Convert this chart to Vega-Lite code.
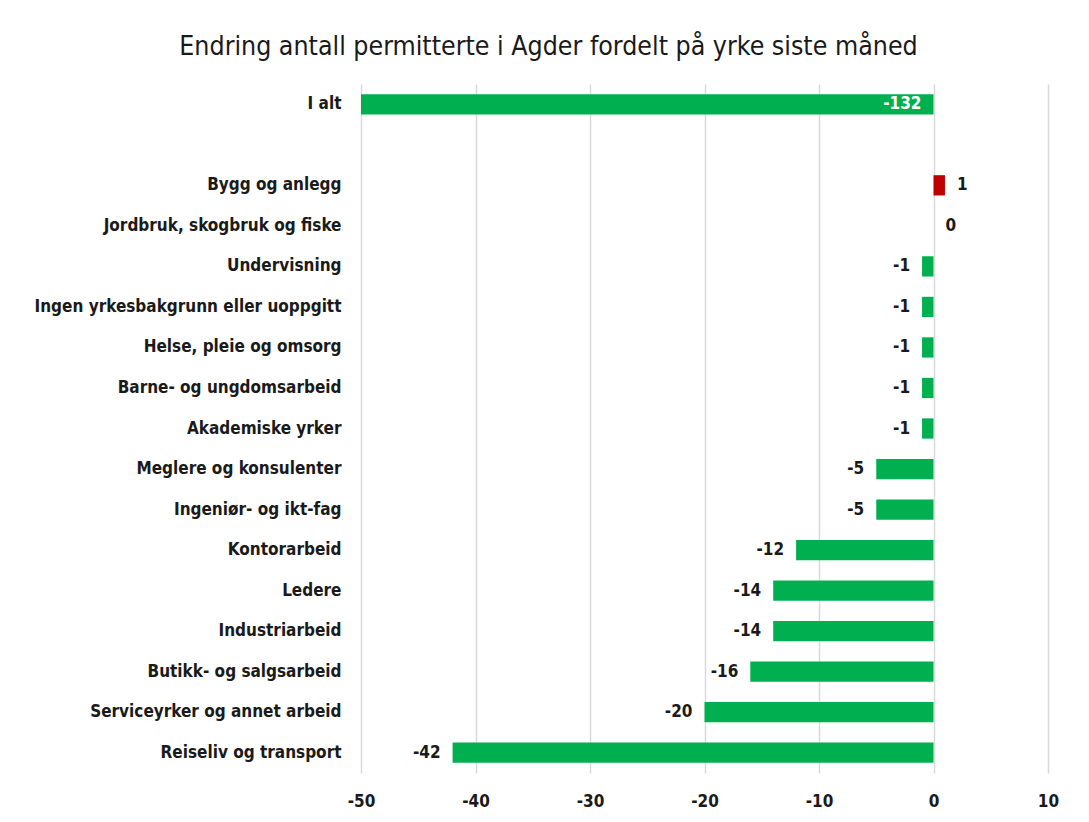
{
  "$schema": "https://vega.github.io/schema/vega-lite/v6.json",
  "autosize": {"type": "none"},
  "padding": {"left": 361, "top": 84, "right": 41, "bottom": 49},
  "width": 687,
  "height": 689,
  "background": "white",
  "title": {
    "text": "Endring antall permitterte i Agder fordelt på yrke siste måned",
    "font": "DejaVu Sans Condensed",
    "fontSize": 26.5,
    "fontWeight": "normal",
    "color": "#1a1a1a",
    "anchor": "middle",
    "dx": -156,
    "offset": 24
  },
  "data": {
    "values": [
      {"category": "I alt", "value": -132},
      {"category": "Bygg og anlegg", "value": 1},
      {"category": "Jordbruk, skogbruk og fiske", "value": 0},
      {"category": "Undervisning", "value": -1},
      {"category": "Ingen yrkesbakgrunn eller uoppgitt", "value": -1},
      {"category": "Helse, pleie og omsorg", "value": -1},
      {"category": "Barne- og ungdomsarbeid", "value": -1},
      {"category": "Akademiske yrker", "value": -1},
      {"category": "Meglere og konsulenter", "value": -5},
      {"category": "Ingeniør- og ikt-fag", "value": -5},
      {"category": "Kontorarbeid", "value": -12},
      {"category": "Ledere", "value": -14},
      {"category": "Industriarbeid", "value": -14},
      {"category": "Butikk- og salgsarbeid", "value": -16},
      {"category": "Serviceyrker og annet arbeid", "value": -20},
      {"category": "Reiseliv og transport", "value": -42}
    ]
  },
  "encoding": {
    "y": {
      "field": "category",
      "type": "nominal",
      "scale": {
        "domain": ["I alt", " ", "Bygg og anlegg", "Jordbruk, skogbruk og fiske", "Undervisning", "Ingen yrkesbakgrunn eller uoppgitt", "Helse, pleie og omsorg", "Barne- og ungdomsarbeid", "Akademiske yrker", "Meglere og konsulenter", "Ingeniør- og ikt-fag", "Kontorarbeid", "Ledere", "Industriarbeid", "Butikk- og salgsarbeid", "Serviceyrker og annet arbeid", "Reiseliv og transport"],
        "paddingInner": 0.5,
        "paddingOuter": 0.25
      },
      "axis": {
        "title": null,
        "domain": false,
        "ticks": false,
        "labelPadding": 20,
        "labelFont": "DejaVu Sans Condensed",
        "labelFontSize": 17,
        "labelFontWeight": "bold",
        "labelColor": "#1a1a1a",
        "labelLimit": 400
      }
    }
  },
  "layer": [
    {
      "mark": {"type": "bar"},
      "encoding": {
        "x": {
          "field": "value",
          "type": "quantitative",
          "scale": {"domain": [-50, 10], "clamp": true, "nice": false, "zero": false},
          "axis": {
            "title": null,
            "values": [-50, -40, -30, -20, -10, 0, 10],
            "format": "d",
            "domain": false,
            "ticks": false,
            "grid": true,
            "gridColor": "#d9d9d9",
            "gridWidth": 1.5,
            "labelFlush": false,
            "labelPadding": 20,
            "labelFont": "DejaVu Sans Condensed",
            "labelFontSize": 17,
            "labelFontWeight": "bold",
            "labelColor": "#1a1a1a"
          }
        },
        "x2": {"datum": 0},
        "color": {"condition": {"test": "datum.value > 0", "value": "#C00000"}, "value": "#00B050"}
      }
    },
    {
      "transform": [{"filter": "datum.category == 'I alt'"}],
      "mark": {"type": "text", "align": "right", "dx": -12, "font": "DejaVu Sans Condensed", "fontSize": 17, "fontWeight": "bold", "color": "white"},
      "encoding": {"x": {"datum": 0, "type": "quantitative"}, "text": {"field": "value", "type": "quantitative", "format": "d"}}
    },
    {
      "transform": [{"filter": "datum.category != 'I alt' && datum.value < 0"}],
      "mark": {"type": "text", "align": "right", "dx": -12, "font": "DejaVu Sans Condensed", "fontSize": 17, "fontWeight": "bold", "color": "#1a1a1a"},
      "encoding": {"x": {"field": "value", "type": "quantitative"}, "text": {"field": "value", "type": "quantitative", "format": "d"}}
    },
    {
      "transform": [{"filter": "datum.value >= 0"}],
      "mark": {"type": "text", "align": "left", "dx": 12, "font": "DejaVu Sans Condensed", "fontSize": 17, "fontWeight": "bold", "color": "#1a1a1a"},
      "encoding": {"x": {"field": "value", "type": "quantitative"}, "text": {"field": "value", "type": "quantitative", "format": "d"}}
    }
  ],
  "config": {
    "view": {"stroke": null},
    "locale": {"number": {"decimal": ",", "thousands": " ", "grouping": [3], "currency": ["", " kr"], "minus": "-"}}
  }
}
